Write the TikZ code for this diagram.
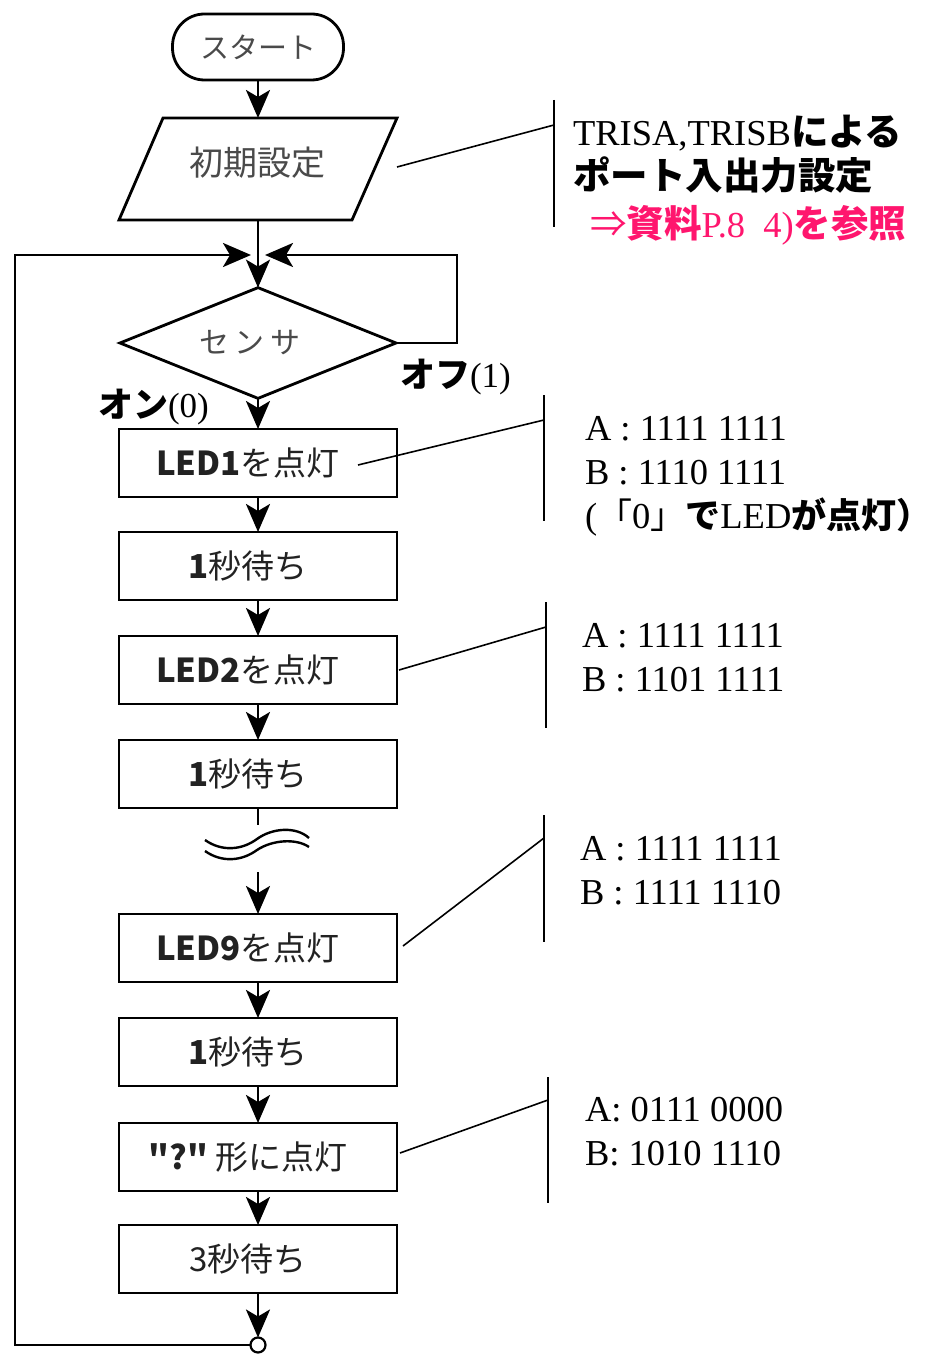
\documentclass[tikz,border=0pt]{standalone}
\usepackage{fontspec}
\setmainfont{Liberation Serif}
\newfontfamily\jp{Noto Sans CJK JP}
\usetikzlibrary{arrows.meta,shapes.geometric}
\definecolor{boxtext}{HTML}{222222}
\definecolor{lighttext}{HTML}{4A4A4A}
\definecolor{pinkref}{RGB}{255,22,110}
\newcommand{\jpbig}[1]{{\jp\bfseries\fontsize{37.5}{42}\selectfont #1}}
\newcommand{\jpmid}[1]{{\jp\bfseries\fontsize{35}{42}\selectfont #1}}
\begin{document}
\begin{tikzpicture}[x=1pt,y=-1pt,
  every node/.style={inner sep=0pt, outer sep=0pt},
  flowline/.style={line width=2.8pt},
  arr/.style={flowline,-{Stealth[length=28pt,width=24pt,inset=7pt]}},
  procbox/.style={draw, line width=2.8pt, minimum width=278pt, minimum height=68pt, text=boxtext, font=\jp\fontsize{33}{38}\selectfont},
  leader/.style={line width=1.6pt},
  bracketline/.style={line width=2.8pt},
  note/.style={anchor=base west, font=\fontsize{36.5}{42}\selectfont}
]
\useasboundingbox (0,0) rectangle (933,1356);

% start terminal
\node[draw, line width=2.8pt, rounded corners=32pt, minimum width=171pt, minimum height=66pt,
      text=lighttext, font=\jp\fontsize{29}{34}\selectfont] (start) at (258,47) {スタート};

% initial settings parallelogram
\coordinate (ptl) at (163,118);
\coordinate (ptr) at (397,118);
\coordinate (pbr) at (352,220);
\coordinate (pbl) at (119,220);
\draw[line width=2.8pt, line join=miter] (ptl) -- (ptr) -- (pbr) -- (pbl) -- cycle;
\node[text=lighttext, font=\jp\fontsize{34}{38}\selectfont] (init) at (257,163) {初期設定};
\coordinate (ptop) at (258,118);
\coordinate (pbot) at (258,220);
\coordinate (a1from) at (397,167);

% merge point
\coordinate (merge) at (258,255);
\coordinate (mergeL) at (251,255);
\coordinate (mergeR) at (265,255);

% sensor diamond
\node[draw, shape=diamond, line width=2.8pt, minimum width=276pt, minimum height=104pt,
      text=lighttext, font=\jp\fontsize{30}{34}\selectfont] (sensor) at (258,343) {\hspace*{-16pt}セ\hspace{6pt}ン\hspace{6pt}サ};

% process boxes
\node[procbox] (b1) at (258,463) {\hspace*{-20pt}{\bfseries LED1}を点灯};
\node[procbox] (b2) at (258,566) {\hspace*{-20pt}{\bfseries 1}秒待ち};
\node[procbox] (b3) at (258,670) {\hspace*{-20pt}{\bfseries LED2}を点灯};
\node[procbox] (b4) at (258,774) {\hspace*{-20pt}{\bfseries 1}秒待ち};
\node[procbox] (b5) at (258,948) {\hspace*{-20pt}{\bfseries LED9}を点灯};
\node[procbox] (b6) at (258,1052) {\hspace*{-20pt}{\bfseries 1}秒待ち};
\node[procbox] (b7) at (258,1157) {\hspace*{-20pt}{\bfseries "?"} 形に点灯};
\node[procbox] (b8) at (258,1259) {\hspace*{-20pt}3秒待ち};

% connector at the bottom
\node[draw, circle, line width=2.2pt, minimum size=15pt] (conn) at (258,1345) {};

% flow arrows
\draw[arr] (start.south) -- (ptop);
\draw[flowline] (pbot) -- (merge);
\draw[arr] (merge) -- (sensor.north);
\draw[arr] (sensor.south) -- (b1.north);
\draw[arr] (b1.south) -- (b2.north);
\draw[arr] (b2.south) -- (b3.north);
\draw[arr] (b3.south) -- (b4.north);
\coordinate (gapTop) at (258,825);
\coordinate (gapBot) at (258,872);
\draw[flowline] (b4.south) -- (gapTop);
\draw[arr] (gapBot) -- (b5.north);
\draw[arr] (b5.south) -- (b6.north);
\draw[arr] (b6.south) -- (b7.north);
\draw[arr] (b7.south) -- (b8.north);
\draw[arr] (b8.south) -- (conn.north);

% loop back
\coordinate (loopBL) at (15,1345);
\coordinate (loopTL) at (15,255);
\draw[arr, line join=miter] (conn.west) -- (loopBL) -- (loopTL) -- (mergeL);
% off branch
\coordinate (offR) at (457,343);
\coordinate (offTR) at (457,255);
\draw[arr, line join=miter] (sensor.east) -- (offR) -- (offTR) -- (mergeR);

% wave (omission) symbol
\draw[line width=2.4pt] (205,840) .. controls (222,852) and (242,850) .. (257,839)
   .. controls (272,828) and (296,826) .. (309,838);
\draw[line width=2.4pt] (205,851) .. controls (222,863) and (242,861) .. (257,850)
   .. controls (272,840) and (296,838) .. (309,847);

% branch labels
\node[anchor=base west, font=\fontsize{35}{40}\selectfont] (offlab) at (400,387) {{\jp\bfseries オフ}(1)};
\node[anchor=base west, font=\fontsize{35}{40}\selectfont] (onlab) at (98,417) {{\jp\bfseries オン}(0)};

% annotation 1
\coordinate (a1top) at (554,100);
\coordinate (a1bot) at (554,227);
\coordinate (a1tip) at (554,125);
\draw[bracketline] (a1top) -- (a1bot);
\draw[leader] (a1from) -- (a1tip);
\node[note] (t1a) at (573,146) {TRISA,TRISB\jpbig{による}};
\node[note] (t1b) at (573,190) {\jpbig{ポート入出力設定}};
\node[note, text=pinkref] (t1c) at (590,238) {{\jp ⇒}\jpbig{資料}P.8\hspace{0.5em}4)\jpbig{を参照}};

% annotation 2
\coordinate (a2top) at (544,395);
\coordinate (a2bot) at (544,521);
\coordinate (a2tip) at (544,420);
\coordinate (a2from) at (358,465);
\draw[bracketline] (a2top) -- (a2bot);
\draw[leader] (a2from) -- (a2tip);
\node[note] (t2a) at (585,440) {A : 1111 1111};
\node[note] (t2b) at (585,484) {B : 1110 1111};
\node[note] (t2c) at (585,528) {({\jp\fontsize{35}{42}\selectfont 「}0{\jp\fontsize{35}{42}\selectfont 」}\jpmid{で}LED\jpmid{が点灯）}};

% annotation 3
\coordinate (a3top) at (546,602);
\coordinate (a3bot) at (546,728);
\coordinate (a3tip) at (546,627);
\draw[bracketline] (a3top) -- (a3bot);
\draw[leader] (b3.east) ++(2,0) -- (a3tip);
\node[note] (t3a) at (582,647) {A : 1111 1111};
\node[note] (t3b) at (582,691) {B : 1101 1111};

% annotation 4
\coordinate (a4top) at (544,815);
\coordinate (a4bot) at (544,942);
\coordinate (a4tip) at (544,838);
\coordinate (a4from) at (403,946);
\draw[bracketline] (a4top) -- (a4bot);
\draw[leader] (a4from) -- (a4tip);
\node[note] (t4a) at (580,860) {A : 1111 1111};
\node[note] (t4b) at (580,904) {B : 1111 1110};

% annotation 5
\coordinate (a5top) at (548,1077);
\coordinate (a5bot) at (548,1203);
\coordinate (a5tip) at (548,1100);
\coordinate (a5from) at (400,1153);
\draw[bracketline] (a5top) -- (a5bot);
\draw[leader] (a5from) -- (a5tip);
\node[note] (t5a) at (585,1121) {A: 0111 0000};
\node[note] (t5b) at (585,1165) {B: 1010 1110};
\end{tikzpicture}
\end{document}
